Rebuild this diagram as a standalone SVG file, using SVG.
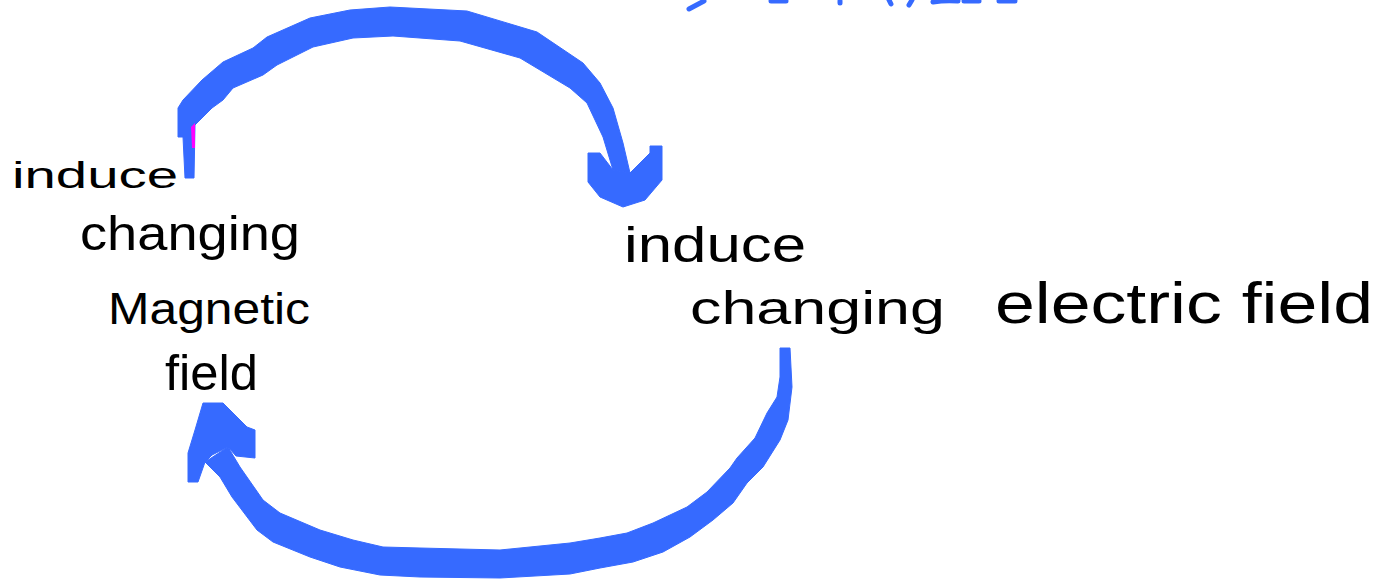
<svg xmlns="http://www.w3.org/2000/svg" width="1392" height="579" viewBox="0 0 1392 579">
  <style>
    .ink { font-family: "Liberation Sans", Arial, sans-serif; fill: #000; }
    .band { fill: #366AFF; stroke: #366AFF; stroke-width: 1; stroke-linejoin: round; }
    .scrap { fill: none; stroke: #366AFF; stroke-width: 5; stroke-linecap: round; }
  </style>

  <rect width="1392" height="579" fill="#fff"/>

  <!-- clipped ink strokes along the top edge -->
  <g id="top-strokes">
    <path class="scrap" d="M689,9 L704,1"/>
    <path class="scrap" d="M771,1 L786,1"/>
    <path class="scrap" d="M840,1 L840,3"/>
    <path class="scrap" d="M889,0 L891,4"/>
    <path class="scrap" d="M912,0 L909,5"/>
    <path class="scrap" d="M933,2 Q945,0 958,1"/>
    <path class="scrap" d="M964,1 L979,1"/>
    <path class="scrap" d="M999,1 L1015,1"/>
  </g>

  <!-- left node -->
  <g id="node-magnetic">
    <text class="ink" x="12" y="188" font-size="36" textLength="166" lengthAdjust="spacingAndGlyphs">induce</text>
    <text class="ink" x="80" y="250" font-size="48" textLength="220" lengthAdjust="spacingAndGlyphs">changing</text>
    <text class="ink" x="108" y="324" font-size="44" textLength="202" lengthAdjust="spacingAndGlyphs">Magnetic</text>
    <text class="ink" x="165" y="390" font-size="50" textLength="93" lengthAdjust="spacingAndGlyphs">field</text>
  </g>

  <!-- right node -->
  <g id="node-electric">
    <text class="ink" x="624" y="262" font-size="50" textLength="182" lengthAdjust="spacingAndGlyphs">induce</text>
    <text class="ink" x="690" y="324" font-size="46" textLength="255" lengthAdjust="spacingAndGlyphs">changing</text>
    <text class="ink" x="995" y="323" font-size="58" textLength="378" lengthAdjust="spacingAndGlyphs">electric field</text>
  </g>

  <!-- connectors: thick marker strokes drawn as filled bands -->
  <g id="connectors">
    <!-- magnetic -> electric, over the top -->
    <polygon class="band" points="183,137 178,137 178,108 183,100 202,80 223,62 253,48 267,37 310,18 350,10 390,7 467,11 537,32 583,63 600,83 613,108 623,143 630,173 613,170 603,137 587,103 570,88 520,58 460,41 393,36 353,38 313,47 277,65 263,75 233,88 223,100 212,108 195,125 194,178 185,178"/>
    <polygon points="191,127 195,123 195,148 192,148" fill="#FF00FF"/>
    <polygon class="band" points="588,153 600,153 613,170 630,173 650,153 650,146 662,146 662,180 645,200 623,207 600,197 588,182"/>

    <!-- electric -> magnetic, underneath -->
    <polygon class="band" points="790,348 792,387 788,420 780,440 763,467 747,483 733,503 713,520 690,537 663,552 633,562 600,568 570,574 500,578 420,577 380,575 340,567 310,557 273,542 257,530 232,497 220,477 205,462 228,447 240,467 263,500 280,513 320,530 353,540 383,547 420,548 500,550 570,543 600,538 627,533 653,523 687,507 707,492 730,468 737,458 755,438 767,413 777,397 780,377 780,348"/>
    <polygon class="band" points="203,403 223,403 247,427 255,430 255,458 236,456 228,447 212,455 205,462 198,482 188,482 188,453 195,430"/>
  </g>
</svg>
